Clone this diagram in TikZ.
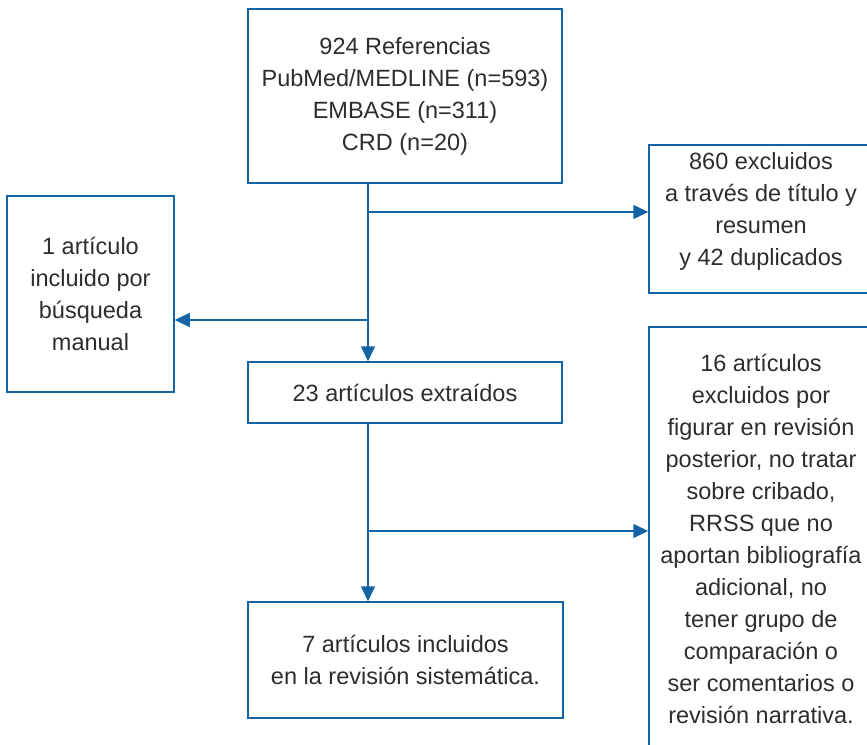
\documentclass[tikz,border=0pt]{standalone}
\usepackage{fontspec}
\setmainfont{Liberation Sans}
\usetikzlibrary{arrows.meta}
\definecolor{flowblue}{RGB}{20,100,165}
\definecolor{txt}{RGB}{45,45,45}
\tikzset{
  box/.style={draw=flowblue, line width=1.5pt, rectangle, align=center, text=txt,
    font=\fontsize{23.5}{32}\selectfont, inner sep=0pt},
  flow/.style={draw=flowblue, line width=1.5pt, -{Triangle[length=15pt,width=14pt]}},
  plain/.style={draw=flowblue, line width=1.5pt}
}
\begin{document}
\begin{tikzpicture}[x=1pt,y=-1pt]
\useasboundingbox (0,0) rectangle (867,744);
\clip (0,0) rectangle (867,744);
% boxes
\node[box, minimum width=314pt, minimum height=174pt] (top) at (405,96)
  {924 Referencias\\PubMed/MEDLINE (n=593)\\EMBASE (n=311)\\CRD (n=20)};
\node[box, minimum width=167pt, minimum height=196pt] (left) at (90.5,294)
  {1 artículo\\incluido por\\búsqueda\\manual};
\node[box, minimum width=314pt, minimum height=61pt] (mid) at (405,392.5)
  {23 artículos extraídos};
\node[box, minimum width=315pt, minimum height=116pt] (bot) at (405.5,660)
  {7 artículos incluidos\\en la revisión sistemática.};
\node[box, minimum width=224pt, minimum height=148pt] (r1) at (761,219) {};
\node[text=txt, align=center, font=\fontsize{23.5}{32}\selectfont, inner sep=0pt] (r1t) at (761,211)
  {860 excluidos\\a través de título y\\resumen\\y 42 duplicados};
\node[box, minimum width=224pt, minimum height=424pt] (r2) at (761,539)
  {16 artículos\\excluidos por\\figurar en revisión\\posterior, no tratar\\sobre cribado,\\RRSS que no\\aportan bibliografía\\adicional, no\\tener grupo de\\comparación o\\ser comentarios o\\revisión narrativa.};
% junction points
\coordinate (j1) at (368,212);
\coordinate (j2) at (368,320);
\coordinate (j3) at (368,531);
% connectors
\draw[flow] (top.south -| j1) -- (mid.north -| j1);
\draw[flow] (j1) -- (r1.west |- j1);
\draw[flow] (j2) -- (left.east |- j2);
\draw[flow] (mid.south -| j1) -- (bot.north -| j1);
\draw[flow] (j3) -- (r2.west |- j3);
\end{tikzpicture}
\end{document}
